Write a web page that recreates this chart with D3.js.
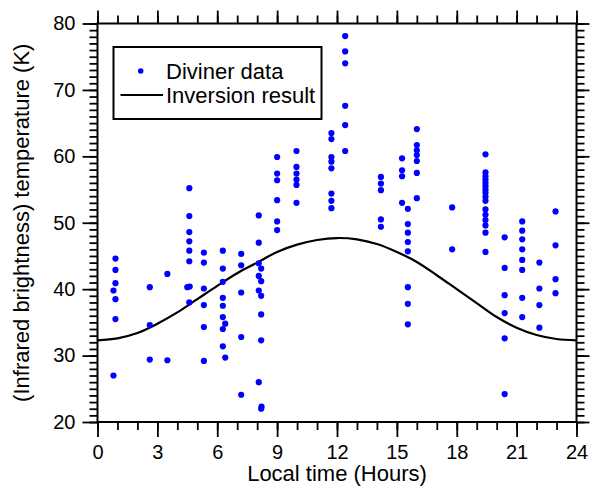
<!DOCTYPE html>
<html>
<head>
<meta charset="utf-8">
<script src="https://cdn.jsdelivr.net/npm/d3@7"></script>
<style>
  html, body { margin: 0; padding: 0; background: #ffffff; }
  svg { display: block; }
  text { font-family: "Liberation Sans", Arial, Helvetica, sans-serif; fill: #000; }
</style>
</head>
<body>
<svg id="chart" width="596" height="494"></svg>
<script>
// ---- Diviner data: local time (hours) and brightness temperature (K) ----
const divinerHours = [
  0.9, 0.9, 0.9, 0.8, 0.9, 0.9, 0.8,
  2.62, 2.62, 2.62,
  3.5, 3.5,
  4.6, 4.6, 4.6, 4.6, 4.6, 4.6, 4.5, 4.62, 4.6,
  5.33, 5.33, 5.33, 5.33, 5.33, 5.33,
  6.28, 6.28, 6.28, 6.28, 6.28, 6.28, 6.28, 6.28, 6.4, 6.4,
  7.2, 7.2, 7.2, 7.2, 7.2,
  8.08, 8.08, 8.08, 8.08, 8.08, 8.08,
  8.2, 8.2, 8.2, 8.2, 8.2, 8.2, 8.22,
  9.0, 9.0, 9.0, 9.0, 9.0, 9.0,
  9.97, 9.97, 9.97, 9.97, 9.97, 9.97,
  11.72, 11.72, 11.72, 11.72, 11.72, 11.72, 11.72, 11.72,
  12.41, 12.41, 12.41, 12.41, 12.41, 12.41,
  14.2, 14.2, 14.2, 14.2, 14.2,
  15.26, 15.26, 15.26, 15.26,
  15.55, 15.55, 15.55, 15.55, 15.55, 15.55, 15.55, 15.55,
  16.0, 16.0, 16.0, 16.0, 16.0, 16.0, 16.0,
  17.77, 17.77,
  19.44, 19.44, 19.44, 19.44, 19.44, 19.44, 19.44, 19.44,
  19.44, 19.44, 19.44, 19.44, 19.44, 19.44, 19.44, 19.44,
  20.4, 20.4, 20.4, 20.4, 20.4, 20.4,
  21.28, 21.28, 21.28, 21.28, 21.28, 21.28, 21.28, 21.28,
  22.14, 22.14, 22.14, 22.14,
  22.95, 22.95, 22.95, 22.95
];
const divinerTemps = [
  44.6, 42.9, 40.9, 39.8, 38.5, 35.5, 27.0,
  40.3, 34.6, 29.4,
  42.3, 29.3,
  55.2, 51.0, 48.6, 47.2, 45.8, 44.2, 40.3, 40.4, 38.0,
  45.5, 44.0, 40.1, 37.6, 34.3, 29.2,
  45.8, 43.1, 41.1, 38.7, 37.5, 35.8, 34.0, 31.4, 34.8, 29.7,
  45.3, 43.6, 39.5, 32.8, 24.1,
  51.1, 47.0, 43.9, 42.0, 39.8, 26.0,
  43.1, 41.2, 39.0, 36.2, 32.3, 22.0, 22.3,
  59.9, 57.4, 56.4, 53.4, 50.2, 48.9,
  60.8, 58.4, 57.4, 56.5, 55.7, 53.0,
  63.5, 62.6, 59.9, 59.2, 58.2, 54.4, 53.3, 52.2,
  78.1, 75.8, 74.0, 67.6, 64.7, 60.8,
  56.9, 55.9, 54.9, 50.5, 49.4,
  59.7, 57.9, 57.0, 53.0,
  52.1, 49.8, 48.5, 47.1, 45.7, 40.3, 37.8, 34.7,
  64.1, 61.7, 60.9, 60.2, 59.3, 57.5, 53.7,
  52.3, 46.0,
  60.3, 57.6, 57.0, 56.5, 56.0, 55.5, 55.0, 54.5,
  53.9, 53.3, 52.0, 51.2, 50.4, 49.6, 48.5, 45.6,
  47.8, 43.2, 39.1, 36.4, 32.6, 24.2,
  50.2, 48.8, 47.5, 46.0, 44.4, 42.9, 38.7, 35.8,
  44.0, 40.1, 37.6, 34.2,
  51.7, 46.6, 41.5, 39.4
];

// ---- Inversion result ----
const inversionHours = [0, 1, 2, 3, 4, 5, 6, 7, 8, 9, 10, 11, 12,
                        13, 14, 15, 16, 17, 18, 19, 20, 21, 22, 23, 24];
const inversionTemps = [32.3, 32.6, 33.4, 34.8, 36.5, 38.5, 40.5, 42.4, 44.0, 45.6, 46.7, 47.4, 47.7,
                        47.5, 46.8, 45.6, 44.1, 42.1, 40.0, 37.9, 35.8, 34.2, 33.1, 32.5, 32.3];

// ---- Axis ticks ----
const xTickLabels = [0, 3, 6, 9, 12, 15, 18, 21, 24];
const yTickLabels = [20, 30, 40, 50, 60, 70, 80];
const xMinorTicks = d3.range(0, 25, 1);
const yMinorTicks = d3.range(20, 81, 1);
const xTitle = "Local time (Hours)";
const yTitle = "(Infrared brightness) temperature (K)";
const legendLabels = ["Diviner data", "Inversion result"];

// ---- Layout ----
const svg = d3.select("#chart");
const L = 97.5, R = 576.5, T = 23.5, B = 422;
const x = d3.scaleLinear().domain([0, 24]).range([L, R]);
const y = d3.scaleLinear().domain([20, 80]).range([B, T]);

const tickStroke = 1.8;
const majorLen = 15, minorLen = 8;

function styleAxis(g) {
  g.select(".domain").remove();
  g.selectAll(".tick line").attr("stroke", "#000").attr("stroke-width", tickStroke);
  g.selectAll(".tick text").attr("font-size", 20).attr("fill", "#000");
}

// Minor ticks
svg.append("g").attr("transform", `translate(0,${B})`)
  .call(d3.axisBottom(x).tickValues(xMinorTicks).tickSize(minorLen).tickFormat(""))
  .call(styleAxis);
svg.append("g").attr("transform", `translate(0,${T})`)
  .call(d3.axisTop(x).tickValues(xMinorTicks).tickSize(minorLen).tickFormat(""))
  .call(styleAxis);
svg.append("g").attr("transform", `translate(${L},0)`)
  .call(d3.axisLeft(y).tickValues(yMinorTicks).tickSize(minorLen).tickFormat(""))
  .call(styleAxis);
svg.append("g").attr("transform", `translate(${R},0)`)
  .call(d3.axisRight(y).tickValues(yMinorTicks).tickSize(minorLen).tickFormat(""))
  .call(styleAxis);

// Major ticks
svg.append("g").attr("transform", `translate(0,${B})`)
  .call(d3.axisBottom(x).tickValues(xTickLabels).tickSize(majorLen).tickPadding(8).tickFormat(d3.format("d")))
  .call(styleAxis);
svg.append("g").attr("transform", `translate(0,${T})`)
  .call(d3.axisTop(x).tickValues(xTickLabels).tickSize(13).tickFormat(""))
  .call(styleAxis);
svg.append("g").attr("transform", `translate(${L},0)`)
  .call(d3.axisLeft(y).tickValues(yTickLabels).tickSize(majorLen).tickPadding(7).tickFormat(d3.format("d")))
  .call(styleAxis);
svg.append("g").attr("transform", `translate(${R},0)`)
  .call(d3.axisRight(y).tickValues(yTickLabels).tickSize(13).tickFormat(""))
  .call(styleAxis);

// Frame
svg.append("rect")
  .attr("x", L).attr("y", T).attr("width", R - L).attr("height", B - T)
  .attr("fill", "none").attr("stroke", "#000").attr("stroke-width", 2);

// Clip
svg.append("clipPath").attr("id", "plotclip")
  .append("rect").attr("x", L).attr("y", T).attr("width", R - L).attr("height", B - T);

// Inversion curve
const curvePts = inversionHours.map((h, i) => [h, inversionTemps[i]]);
svg.append("path")
  .datum(curvePts)
  .attr("clip-path", "url(#plotclip)")
  .attr("fill", "none")
  .attr("stroke", "#000")
  .attr("stroke-width", 2.2)
  .attr("d", d3.line().x(d => x(d[0])).y(d => y(d[1])).curve(d3.curveCatmullRom));

// Diviner points
const pts = divinerHours.map((h, i) => [h, divinerTemps[i]]);
svg.append("g").selectAll("circle")
  .data(pts).join("circle")
  .attr("cx", d => x(d[0]))
  .attr("cy", d => y(d[1]))
  .attr("r", 3.1)
  .attr("fill", "#0000ff");

// Legend
const lg = svg.append("g");
lg.append("rect")
  .attr("x", 113.5).attr("y", 47).attr("width", 208).attr("height", 72)
  .attr("fill", "#fff").attr("stroke", "#000").attr("stroke-width", 2);
lg.append("circle").attr("cx", 140.7).attr("cy", 71).attr("r", 2.8).attr("fill", "#0000ff");
lg.append("line").attr("x1", 120.5).attr("x2", 163).attr("y1", 95).attr("y2", 95)
  .attr("stroke", "#000").attr("stroke-width", 2);
lg.append("text").attr("x", 166).attr("y", 79).attr("font-size", 22).text(legendLabels[0]);
lg.append("text").attr("x", 166).attr("y", 103).attr("font-size", 22).text(legendLabels[1]);

// Axis titles
svg.append("text")
  .attr("x", (L + R) / 2).attr("y", 481)
  .attr("text-anchor", "middle").attr("font-size", 22)
  .text(xTitle);
svg.append("text")
  .attr("transform", `translate(29,${(T + B) / 2}) rotate(-90)`)
  .attr("text-anchor", "middle").attr("font-size", 22)
  .text(yTitle);
</script>
</body>
</html>
